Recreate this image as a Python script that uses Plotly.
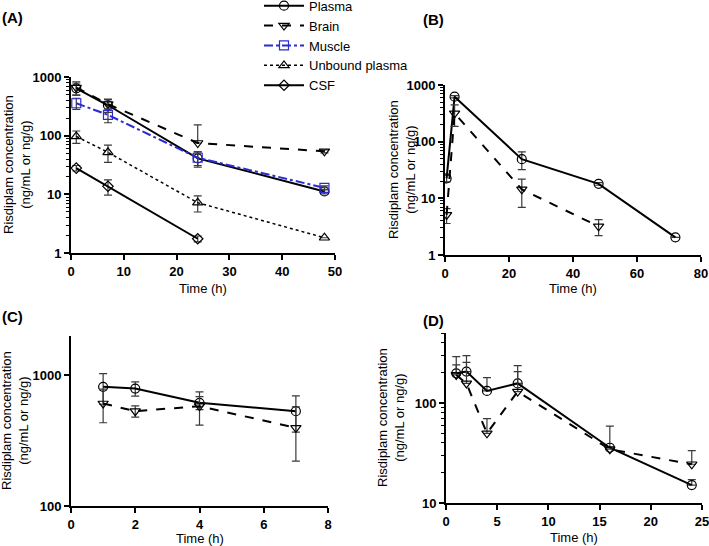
import plotly.graph_objects as go
from plotly.subplots import make_subplots

# (A) tissue PK
t_a = [1, 7, 24, 48]
plasma_a = [640, 330, 41, 11.2]
plasma_a_err = [150, 80, 12, 1]
brain_a = [660, 345, 75, 54]
brain_a_err_up = [170, 75, 78, 3]
brain_a_err_dn = [170, 75, 0, 3]
muscle_a = [357, 226, 42, 12.9]
muscle_a_err = [77, 60, 11, 1]
unbound_a = [97, 52, 7.2, 1.82]
unbound_a_err = [23, 17, 2.2, 0]
csf_t = [1, 7, 24]
csf_a = [28, 13.7, 1.75]
csf_a_err = [3, 4, 0.2]

# (B)
t_b_plasma = [0.5, 3, 24, 48, 72]
plasma_b = [22.5, 622, 49, 18, 2.05]
plasma_b_err = [3, 30, 17, 1, 0]
t_b_brain = [0.5, 3, 24, 48]
brain_b = [5.1, 316, 14.4, 3.2]
brain_b_err = [1.5, 130, 7.5, 1]

# (C)
t_c = [1, 2, 4, 7]
plasma_c = [815, 791, 615, 531]
plasma_c_err = [215, 100, 70, 164]
brain_c = [608, 531, 580, 396]
brain_c_err = [175, 53, 165, 176]

# (D) upward error bars only
t_d = [1, 2, 4, 7, 16, 24]
plasma_d = [198, 206, 132, 157, 35.7, 15.1]
plasma_d_err = [93, 91, 47, 79, 23, 2]
brain_d = [191, 157, 49.8, 130, 34.5, 24.4]
brain_d_err = [50, 98, 20, 76, 0, 9]

W, H = 709, 546
FONT = "Liberation Sans, Arial, sans-serif"
BLUE = "#2b2bd0"
ERRC = "#3a3a3a"

fig = make_subplots(rows=2, cols=2)


def err(up, dn=None):
    return dict(type="data", array=up, arrayminus=up if dn is None else dn,
                symmetric=False, color=ERRC, thickness=1.2, width=4)


def series(x, y, name, dash, symbol, e, color="black", lw=2, show=True, msize=9):
    return go.Scatter(x=x, y=y, name=name, mode="lines+markers", showlegend=show,
                      line=dict(color=color, width=lw, dash=dash),
                      marker=dict(symbol=symbol, size=msize, color=color,
                                  line=dict(color=color, width=1.2)),
                      error_y=e)


# A
fig.add_trace(series(t_a, plasma_a, "Plasma", "solid", "circle-open", err(plasma_a_err)), row=1, col=1)
fig.add_trace(series(t_a, brain_a, "Brain", "dash", "triangle-down-open",
                     err(brain_a_err_up, brain_a_err_dn)), row=1, col=1)
fig.add_trace(series(t_a, muscle_a, "Muscle", "dashdot", "square-open", err(muscle_a_err),
                     color=BLUE), row=1, col=1)
fig.add_trace(series(t_a, unbound_a, "Unbound plasma", "dot", "triangle-up-open", err(unbound_a_err),
                     lw=1.5), row=1, col=1)
fig.add_trace(series(csf_t, csf_a, "CSF", "solid", "diamond-open", err(csf_a_err), msize=8), row=1, col=1)

# B
fig.add_trace(series(t_b_plasma, plasma_b, "Plasma", "solid", "circle-open", err(plasma_b_err),
                     show=False), row=1, col=2)
fig.add_trace(series(t_b_brain, brain_b, "Brain", "dash", "triangle-down-open", err(brain_b_err),
                     show=False), row=1, col=2)

# C
fig.add_trace(series(t_c, plasma_c, "Plasma", "solid", "circle-open", err(plasma_c_err),
                     show=False), row=2, col=1)
fig.add_trace(series(t_c, brain_c, "Brain", "dash", "triangle-down-open", err(brain_c_err),
                     show=False), row=2, col=1)

# D
zeros = [0] * len(t_d)
fig.add_trace(series(t_d, plasma_d, "Plasma", "solid", "circle-open", err(plasma_d_err, zeros),
                     show=False), row=2, col=2)
fig.add_trace(series(t_d, brain_d, "Brain", "dash", "triangle-down-open", err(brain_d_err, zeros),
                     show=False), row=2, col=2)


def px_dom(a, b, total):
    return [a / total, b / total]


def ydom(top, bottom):
    return [1 - bottom / H, 1 - top / H]


axis_common = dict(showline=True, linecolor="black", linewidth=2, ticks="outside", ticklen=5,
                   tickwidth=1.5, tickcolor="black", showgrid=False, zeroline=False, mirror=False,
                   automargin=False, ticklabeloverflow="allow",
                   tickfont=dict(family=FONT, size=13, color="black", weight="bold"))


def log_minor(lo, hi):
    vals = []
    for d in range(lo, hi):
        for k in range(2, 10):
            vals.append(k * 10 ** d)
    return dict(tickmode="array", tickvals=vals, ticks="outside", ticklen=3, tickwidth=1,
                tickcolor="black", showgrid=False)


decades = [1, 10, 100, 1000]

# x axes
fig.update_xaxes(axis_common, range=[0, 50], dtick=10, domain=px_dom(71, 335, W), row=1, col=1)
fig.update_xaxes(axis_common, range=[0, 80], dtick=20, domain=px_dom(445, 701, W), row=1, col=2)
fig.update_xaxes(axis_common, range=[0, 8], dtick=2, domain=px_dom(71, 328, W), row=2, col=1)
fig.update_xaxes(axis_common, range=[0, 25], dtick=5, domain=px_dom(446, 702, W), row=2, col=2)

# y axes
fig.update_yaxes(axis_common, type="log", range=[0, 3], tickvals=decades,
                 ticktext=[str(v) for v in decades], minor=log_minor(0, 3),
                 domain=ydom(77, 253), row=1, col=1)
fig.update_yaxes(axis_common, type="log", range=[0, 3], tickvals=decades,
                 ticktext=[str(v) for v in decades], minor=log_minor(0, 3),
                 domain=ydom(85, 255), row=1, col=2)
fig.update_yaxes(axis_common, type="log", range=[2, 3.3], tickvals=[100, 1000],
                 ticktext=["100", "1000"], domain=ydom(336, 506), row=2, col=1)
fig.update_yaxes(axis_common, type="log", range=[1, 2.7], tickvals=[10, 100],
                 ticktext=["10", "100"], minor=log_minor(1, 3),
                 domain=ydom(333, 503), row=2, col=2)

ytitle = "Risdiplam concentration<br>(ng/mL or ng/g)"
annotations = []
for (cx, cy) in [(17, 165), (402, 170), (15, 421), (391, 418)]:
    annotations.append(dict(text=ytitle, x=cx / W, y=1 - cy / H, xref="paper", yref="paper",
                            showarrow=False, textangle=-90, xanchor="center", yanchor="middle",
                            font=dict(family=FONT, size=13, color="black")))
for (cx, cy) in [(203, 288), (573, 288), (200, 538), (574, 537)]:
    annotations.append(dict(text="Time (h)", x=cx / W, y=1 - cy / H, xref="paper", yref="paper",
                            showarrow=False, xanchor="center", yanchor="middle",
                            font=dict(family=FONT, size=13, color="black")))
for (lab, lx, ly) in [("(A)", 0, 18), ("(B)", 421, 20), ("(C)", 0, 316), ("(D)", 421, 320)]:
    annotations.append(dict(text=f"<b>{lab}</b>", x=lx / W, y=1 - ly / H, xref="paper", yref="paper",
                            showarrow=False, xanchor="left", yanchor="middle",
                            font=dict(family=FONT, size=15, color="black")))

fig.update_layout(
    width=W, height=H, margin=dict(l=0, r=0, t=0, b=0, autoexpand=False),
    paper_bgcolor="white", plot_bgcolor="white",
    font=dict(family=FONT, size=13, color="black"),
    annotations=annotations,
    showlegend=True,
    legend=dict(x=259 / W, y=1.017, xanchor="left", yanchor="top", bgcolor="rgba(0,0,0,0)",
                font=dict(family=FONT, size=13, color="black"), tracegroupgap=0,
                itemwidth=40),
)

# the page body has a default 8px margin; drop it so the figure sits at 0,0
fig.write_html("out.html", config={"displayModeBar": False},
               post_script="document.body.style.margin='0';")
